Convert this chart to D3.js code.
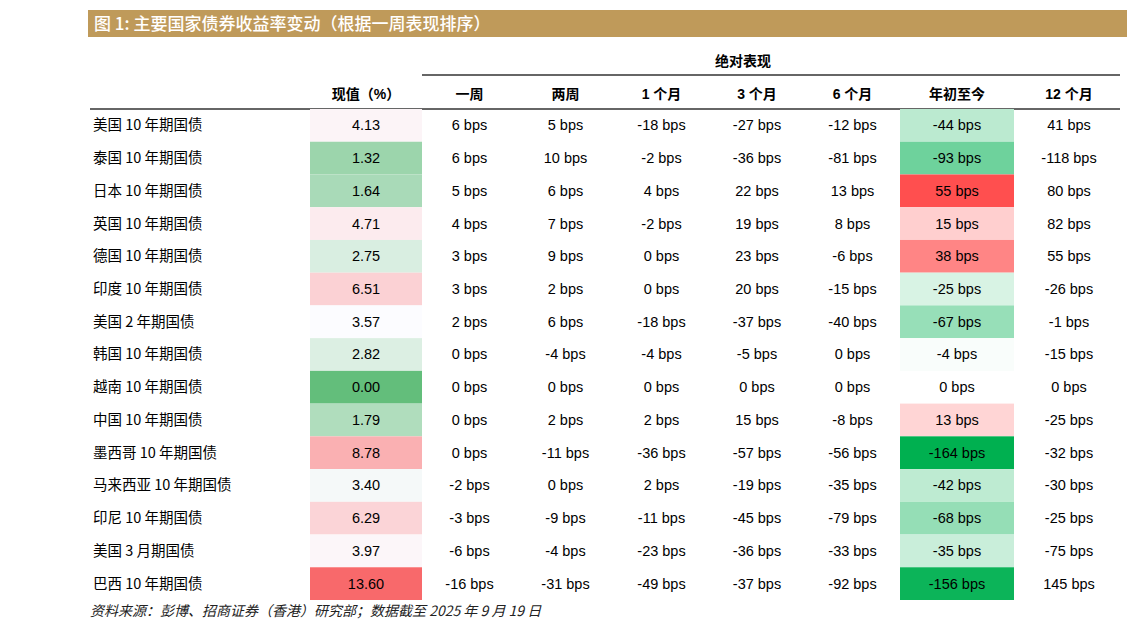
<!DOCTYPE html>
<html>
<head>
<meta charset="utf-8">
<script src="https://d3js.org/d3.v7.min.js"></script>
<style>
  body { margin: 0; background: #fff; }
  text { font-family: "Liberation Sans", Arial, "Noto Sans CJK SC", sans-serif; }
</style>
</head>
<body>
<div id="chart"></div>
<script>
  // data
  let names = ["美国 10 年期国债", "泰国 10 年期国债", "日本 10 年期国债", "英国 10 年期国债", "德国 10 年期国债",
    "印度 10 年期国债", "美国 2 年期国债", "韩国 10 年期国债", "越南 10 年期国债", "中国 10 年期国债",
    "墨西哥 10 年期国债", "马来西亚 10 年期国债", "印尼 10 年期国债", "美国 3 月期国债", "巴西 10 年期国债"];
  let current = [4.13, 1.32, 1.64, 4.71, 2.75, 6.51, 3.57, 2.82, 0.00, 1.79, 8.78, 3.40, 6.29, 3.97, 13.60];
  let week1 = [6, 6, 5, 4, 3, 3, 2, 0, 0, 0, 0, -2, -3, -6, -16];
  let week2 = [5, 10, 6, 7, 9, 2, 6, -4, 0, 2, -11, 0, -9, -4, -31];
  let month1 = [-18, -2, 4, -2, 0, 0, -18, -4, 0, 2, -36, 2, -11, -23, -49];
  let month3 = [-27, -36, 22, 19, 23, 20, -37, -5, 0, 15, -57, -19, -45, -36, -37];
  let month6 = [-12, -81, 13, 8, -6, -15, -40, 0, 0, -8, -56, -35, -79, -33, -92];
  let ytd = [-44, -93, 55, 15, 38, -25, -67, -4, 0, 13, -164, -42, -68, -35, -156];
  let month12 = [41, -118, 80, 82, 55, -26, -1, -15, 0, -25, -32, -30, -25, -75, 145];
  let headers = ["现值（%）", "一周", "两周", "1 个月", "3 个月", "6 个月", "年初至今", "12 个月"];

  let width = 1132, height = 625;
  let svg = d3.select("#chart").append("svg").attr("width", width).attr("height", height);

  // title bar
  svg.append("rect").attr("x", 88).attr("y", 10).attr("width", 1039).attr("height", 27).attr("fill", "#BF9A5A");
  svg.append("text").attr("x", 94).attr("y", 30).attr("fill", "#fff")
    .style("font-family", "'Noto Sans CJK SC'").style("font-size", "17px").style("font-weight", 500)
    .text("图 1:  主要国家债券收益率变动（根据一周表现排序）");

  // column layout
  let colEdges = [310, 422, 517, 614, 709, 805, 900, 1014, 1124];
  let colCenter = i => (colEdges[i] + colEdges[i + 1]) / 2;
  let y = d3.scaleBand().domain(d3.range(names.length)).range([109, 600]);

  // colour scales (Excel-like)
  let curColor = d3.scaleLinear().domain([d3.min(current), d3.median(current), d3.max(current)])
    .range(["#63BE7B", "#FCFCFF", "#F8696B"]);
  let ytdColor = d3.scaleLinear().domain([d3.min(ytd), 0, d3.max(ytd)])
    .range(["#00B050", "#FFFFFF", "#FF4F4F"]);

  // headers
  svg.append("text").attr("x", (colEdges[1] + colEdges[8]) / 2 - 30).attr("y", 66).attr("text-anchor", "middle")
    .style("font-family", "'Noto Sans CJK SC'").style("font-size", "14px").style("font-weight", 700).text("绝对表现");
  svg.append("line").attr("x1", 422).attr("x2", 1120).attr("y1", 75).attr("y2", 75).attr("stroke", "#333").attr("stroke-width", 1.5);
  headers.forEach((h, i) => {
    svg.append("text").attr("x", colCenter(i)).attr("y", 99).attr("text-anchor", "middle")
      .style("font-size", "14px").style("font-weight", 700).text(h);
  });
  svg.append("line").attr("x1", 90).attr("x2", 1120).attr("y1", 109).attr("y2", 109).attr("stroke", "#333").attr("stroke-width", 1.5);

  // cells
  let rows = svg.append("g").selectAll("g").data(names).join("g")
    .attr("transform", (d, i) => `translate(0,${y(i)})`);
  rows.append("rect").attr("x", colEdges[0]).attr("width", colEdges[1] - colEdges[0]).attr("height", y.bandwidth())
    .attr("fill", (d, i) => curColor(current[i]));
  rows.append("rect").attr("x", colEdges[6]).attr("width", colEdges[7] - colEdges[6]).attr("height", y.bandwidth())
    .attr("fill", (d, i) => ytdColor(ytd[i]));
  let cy = y.bandwidth() / 2 + 5;
  rows.append("text").attr("x", 93).attr("y", cy).style("font-size", "14.5px")
    .style("font-family", "'Noto Sans CJK SC'").text(d => d);
  rows.append("text").attr("x", colCenter(0)).attr("y", cy).attr("text-anchor", "middle").style("font-size", "14.5px")
    .text((d, i) => current[i].toFixed(2));
  [week1, week2, month1, month3, month6, ytd, month12].forEach((arr, c) => {
    rows.append("text").attr("x", colCenter(c + 1)).attr("y", cy).attr("text-anchor", "middle").style("font-size", "14.5px")
      .text((d, i) => arr[i] + " bps");
  });

  // source
  svg.append("text").attr("x", 90).attr("y", 616).style("font-size", "14px").style("font-style", "italic")
    .style("font-family", "'Noto Sans CJK SC'").attr("fill", "#222")
    .text("资料来源：彭博、招商证券（香港）研究部；数据截至 2025 年 9 月 19 日");
</script>
</body>
</html>
